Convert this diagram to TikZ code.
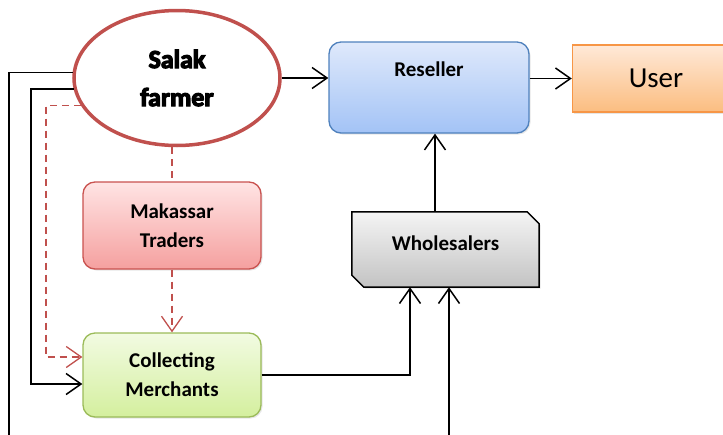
\documentclass[tikz,border=0pt]{standalone}
\usepackage{fontspec}
\setmainfont{Carlito}
\newfontfamily\heavyfont{Carlito Bold}[FakeBold=4.5]
\usepackage{tikz}
\usetikzlibrary{arrows.meta, shapes.geometric, shadows}
\definecolor{farmred}{HTML}{C0504D}
\definecolor{resline}{HTML}{4F81BD}
\definecolor{restop}{HTML}{DFE9FB}
\definecolor{resbot}{HTML}{A3C3F6}
\definecolor{userline}{HTML}{F79646}
\definecolor{usertop}{HTML}{FFE9D8}
\definecolor{userbot}{HTML}{FBBD80}
\definecolor{makline}{HTML}{C9524F}
\definecolor{maktop}{HTML}{FFE4E4}
\definecolor{makbot}{HTML}{F5A09F}
\definecolor{cmline}{HTML}{9BBB59}
\definecolor{cmtop}{HTML}{F2FBE2}
\definecolor{cmbot}{HTML}{D4EF9E}
\definecolor{whltop}{HTML}{F4F4F4}
\definecolor{whlbot}{HTML}{C3C3C3}

\begin{document}
\begin{tikzpicture}[x=1pt, y=-1pt,
  txt/.style={font=\fontsize{21}{29}\selectfont\bfseries, align=center},
  box/.style={txt, rounded corners=12pt, line width=1.3pt,
    minimum width=178pt, minimum height=87pt, inner sep=0pt,
    drop shadow={opacity=0.2, shadow xshift=1.5pt, shadow yshift=-1.5pt}},
  farmer/.style={ellipse, draw=farmred, line width=3.5pt, fill=white,
    minimum width=206pt, minimum height=135pt, inner sep=0pt, align=center,
    font=\fontsize{26}{38}\selectfont\heavyfont},
  resbox/.style={box, draw=resline, top color=restop, bottom color=resbot,
    minimum width=200pt, minimum height=91pt},
  userbox/.style={draw=userline, line width=1.5pt, top color=usertop,
    bottom color=userbot, minimum width=167pt, minimum height=67pt,
    font=\fontsize{29}{32}\selectfont,
    drop shadow={opacity=0.2, shadow xshift=1.5pt, shadow yshift=-1.5pt}},
  makbox/.style={box, draw=makline, top color=maktop, bottom color=makbot},
  cmbox/.style={box, draw=cmline, top color=cmtop, bottom color=cmbot,
    minimum height=84pt},
  whlbox/.style={minimum width=187pt, minimum height=75pt, inner sep=0pt},
  whlshape/.style={draw=black, line width=1.5pt, top color=whltop, bottom color=whlbot,
    drop shadow={opacity=0.2, shadow xshift=1.5pt, shadow yshift=-1.5pt}},
  lbl/.style={txt, inner sep=0pt},
  arr/.style={line width=1.5pt, -{Straight Barb[length=15pt, width=21pt, line width=1.5pt]}},
  dasharr/.style={draw=farmred, line width=1.3pt, dash pattern=on 7pt off 5pt,
    -{Straight Barb[length=15pt, width=21pt, line width=1.3pt]}},
  dashline/.style={draw=farmred, line width=1.3pt, dash pattern=on 7pt off 5pt}]

  \useasboundingbox (0,0) rectangle (723,434);

  % --- nodes ---
  \node[farmer] (farm) at (177,78) {Salak\\farmer};
  \node[resbox] (res) at (429,87.5) {};
  \node[lbl] (reslbl) at ([yshift=-28pt]res.north) {Reseller};
  \node[userbox] (usr) at (656,78.5) {User};
  \node[whlbox] (whl) at (445.5,249.5) {};
  % snipped corners of the wholesalers box
  \shade[whlshape] (whl.north west) -- ([xshift=-12pt]whl.north east)
    -- ([yshift=-12pt]whl.north east) -- (whl.south east)
    -- ([xshift=12pt]whl.south west) -- ([yshift=12pt]whl.south west) -- cycle;
  \node[lbl] (whllbl) at ([yshift=6pt]whl.center) {Wholesalers};
  \node[makbox] (mak) at (172,225.5) {Makassar\\Traders};
  \node[cmbox] (cm) at (172,375) {Collecting\\Merchants};

  % free ends
  \coordinate (outl) at (9,440);
  \coordinate (innl) at (31,0);
  \coordinate (dshl) at (46,0);
  \coordinate (botin) at (449,440);

  % --- connectors ---
  \draw[line width=1.5pt] (farm.177) -| (outl);
  \draw[arr] (farm.186) -- (farm.186 -| innl) |- ([yshift=-9pt]cm.west);
  \draw[dasharr] (farm.196) -- (farm.196 -| dshl) |- ([yshift=18pt]cm.west);
  \draw[dashline] (mak.north |- farm.south) -- (mak.north);
  \draw[dasharr] (mak.south) -- (cm.north);

  \draw[arr] (farm.east) -- (farm.east -| res.west);
  \draw[arr] (usr.west -| res.east) -- (usr.west);
  \draw[arr] ([xshift=-10.5pt]whl.north) -- ([xshift=-10.5pt]whl.north |- res.south);
  \draw[arr] (cm.east) -| ([xshift=-35.5pt]whl.south);
  \draw[arr] (botin) -- (botin |- whl.south);

\end{tikzpicture}
\end{document}
